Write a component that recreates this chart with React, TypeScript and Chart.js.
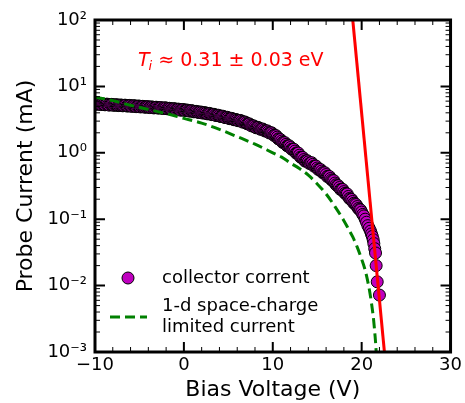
import React, { useEffect, useRef } from 'react';
import { Chart, registerables } from 'chart.js';

Chart.register(...registerables);

// ---------- data ----------
// collector current, first pass of readings along the band
const collectorV = [
  -10, -9.75, -9.5, -9.25, -9, -8.75, -8.5, -8.25, -8, -7.75, -7.5, -7.25, -7, -6.75, -6.5, -6.25,
  -6, -5.75, -5.5, -5.25, -5, -4.75, -4.5, -4.25, -4, -3.75, -3.5, -3.25, -3, -2.75, -2.5, -2.25,
  -2, -1.75, -1.5, -1.25, -1, -0.75, -0.5, -0.25, 0, 0.25, 0.5, 0.75, 1, 1.25, 1.5, 1.75,
  2, 2.25, 2.5, 2.75, 3, 3.25, 3.5, 3.75, 4, 4.25, 4.5, 4.75, 5, 5.25, 5.5, 5.75,
  6, 6.25, 6.5, 6.75, 7, 7.25, 7.5, 7.75, 8, 8.25, 8.5, 8.75, 9, 9.25, 9.5, 9.75,
  10, 10.25, 10.5, 10.75, 11, 11.25, 11.5, 11.75, 12, 12.25, 12.5, 12.75, 13, 13.25, 13.5, 13.75,
  14, 14.25, 14.5, 14.75, 15, 15.25, 15.5, 15.75, 16, 16.25, 16.5, 16.75, 17, 17.25, 17.5, 17.75,
  18, 18.25, 18.5, 18.75, 19, 19.25, 19.5, 19.75, 20, 20.25,
  20.4, 20.55, 20.7, 20.85, 21.0, 21.1, 21.2, 21.3, 21.37, 21.47, 21.56, 21.63, 21.75, 22.0,
];
const collectorI = [
  5.45, 5.5, 5.4, 5.42, 5.35, 5.38, 5.3, 5.33, 5.28, 5.24, 5.26, 5.18, 5.2, 5.15, 5.17, 5.1,
  5.12, 5.06, 5.08, 5.0, 5.02, 4.97, 4.95, 4.9, 4.92, 4.86, 4.85, 4.8, 4.82, 4.76, 4.75, 4.7,
  4.72, 4.64, 4.62, 4.56, 4.58, 4.5, 4.49, 4.42, 4.45, 4.38, 4.33, 4.28, 4.25, 4.18, 4.15, 4.08,
  4.05, 4.0, 3.95, 3.88, 3.85, 3.78, 3.72, 3.66, 3.6, 3.53, 3.48, 3.4, 3.35, 3.28, 3.23, 3.15,
  3.1, 3.06, 2.98, 2.9, 2.82, 2.72, 2.62, 2.54, 2.45, 2.4, 2.33, 2.27, 2.2, 2.13, 2.06, 2.0,
  1.92, 1.82, 1.72, 1.6, 1.5, 1.42, 1.34, 1.27, 1.2, 1.13, 1.06, 0.99, 0.92, 0.85, 0.79, 0.75,
  0.73, 0.7, 0.67, 0.63, 0.59, 0.56, 0.53, 0.5, 0.47, 0.44, 0.41, 0.38, 0.35, 0.32, 0.3, 0.28,
  0.26, 0.24, 0.22, 0.2, 0.185, 0.17, 0.155, 0.14, 0.128, 0.112,
  0.1, 0.09, 0.08, 0.073, 0.066, 0.06, 0.055, 0.049, 0.043, 0.036, 0.031, 0.02, 0.0114, 0.0072,
];
// collector current, second pass (band edges between the first-pass readings)
const collectorV2 = [
  -9.875, -9.625, -9.375, -9.125, -8.875, -8.625, -8.375, -8.125, -7.875, -7.625, -7.375, -7.125,
  -6.875, -6.625, -6.375, -6.125, -5.875, -5.625, -5.375, -5.125, -4.875, -4.625, -4.375, -4.125,
  -3.875, -3.625, -3.375, -3.125, -2.875, -2.625, -2.375, -2.125, -1.875, -1.625, -1.375, -1.125,
  -0.875, -0.625, -0.375, -0.125, 0.125, 0.375, 0.625, 0.875, 1.125, 1.375, 1.625, 1.875,
  2.125, 2.375, 2.625, 2.875, 3.125, 3.375, 3.625, 3.875, 4.125, 4.375, 4.625, 4.875,
  5.125, 5.375, 5.625, 5.875, 6.125, 6.375, 6.625, 6.875, 7.125, 7.375, 7.625, 7.875,
  8.125, 8.375, 8.625, 8.875, 9.125, 9.375, 9.625, 9.875, 10.125, 10.375, 10.625, 10.875,
  11.125, 11.375, 11.625, 11.875, 12.125, 12.375, 12.625, 12.875, 13.125, 13.375, 13.625, 13.875,
  14.125, 14.375, 14.625, 14.875, 15.125, 15.375, 15.625, 15.875, 16.125, 16.375, 16.625, 16.875,
  17.125, 17.375, 17.625, 17.875, 18.125, 18.375, 18.625, 18.875, 19.125, 19.375, 19.625, 19.875,
  20.125,
];
const collectorI2 = [
  5.36, 5.52, 5.33, 5.45, 5.28, 5.4, 5.22, 5.36, 5.18, 5.3, 5.14, 5.25,
  5.1, 5.22, 5.05, 5.17, 5.0, 5.12, 4.95, 5.07, 4.9, 5.01, 4.85, 4.96,
  4.8, 4.91, 4.74, 4.86, 4.7, 4.8, 4.64, 4.76, 4.6, 4.68, 4.52, 4.62,
  4.46, 4.55, 4.38, 4.49, 4.34, 4.4, 4.24, 4.31, 4.14, 4.21, 4.05, 4.12,
  3.96, 4.02, 3.86, 3.92, 3.76, 3.8, 3.64, 3.68, 3.52, 3.56, 3.39, 3.43,
  3.27, 3.3, 3.15, 3.17, 3.04, 3.07, 2.9, 2.91, 2.73, 2.72, 2.54, 2.54,
  2.38, 2.41, 2.26, 2.28, 2.13, 2.14, 1.99, 2.0, 1.83, 1.81, 1.62, 1.58,
  1.43, 1.42, 1.27, 1.27, 1.13, 1.13, 0.99, 0.99, 0.86, 0.85, 0.75, 0.76,
  0.69, 0.71, 0.63, 0.63, 0.56, 0.56, 0.5, 0.5, 0.44, 0.44, 0.39, 0.38,
  0.33, 0.32, 0.28, 0.28, 0.245, 0.24, 0.205, 0.198, 0.174, 0.166, 0.145, 0.138,
  0.118,
];

const spaceChargeV = [
  -10, -8, -6, -4, -2, 0, 2, 4, 6, 8, 10, 11, 12, 13, 14, 15, 16, 17, 18, 18.5,
  19, 19.5, 20, 20.4, 20.8, 21.1, 21.35, 21.5, 21.6, 21.65,
];
const spaceChargeI = [
  6.9, 6.1, 5.2, 4.5, 3.9, 3.3, 2.8, 2.25, 1.75, 1.35, 1.0, 0.86, 0.7, 0.58, 0.46, 0.34, 0.24, 0.155, 0.095, 0.072,
  0.054, 0.038, 0.025, 0.017, 0.0097, 0.0055, 0.003, 0.0018, 0.0012, 0.0009,
];

const fitV = [19.0, 22.56];
const fitI = [100, 0.001];

const xMajorTicks = [-10, 0, 10, 20, 30];
const xMinorTicks = [-8, -6, -4, -2, 2, 4, 6, 8, 12, 14, 16, 18, 22, 24, 26, 28];
const yMajorTicks = [1e-3, 1e-2, 1e-1, 1, 10, 100];
const yTickLabels = ['10⁻³', '10⁻²', '10⁻¹', '10⁰', '10¹', '10²'];
const yMinorMultipliers = [2, 3, 4, 5, 6, 7, 8, 9];

const legendLabels = ['collector corrent', '1-d space-charge\nlimited current'];
const annotationSymbol = 'T';
const annotationSub = 'i';
const annotationRest = ' ≈ 0.31 ± 0.03 eV';

const FONT = '"DejaVu Sans", sans-serif';

const framePlugin = {
  id: 'frameTicks',
  afterDatasetsDraw(chart: any) {
    const { ctx, chartArea: a, scales } = chart;
    const x = scales.x;
    const y = scales.y;
    ctx.save();
    ctx.strokeStyle = '#000';
    const drawX = (v: number, len: number, w: number) => {
      const px = x.getPixelForValue(v);
      ctx.lineWidth = w;
      ctx.beginPath();
      ctx.moveTo(px, a.bottom);
      ctx.lineTo(px, a.bottom - len);
      ctx.moveTo(px, a.top);
      ctx.lineTo(px, a.top + len);
      ctx.stroke();
    };
    const drawY = (v: number, len: number, w: number) => {
      const py = y.getPixelForValue(v);
      ctx.lineWidth = w;
      ctx.beginPath();
      ctx.moveTo(a.left, py);
      ctx.lineTo(a.left + len, py);
      ctx.moveTo(a.right, py);
      ctx.lineTo(a.right - len, py);
      ctx.stroke();
    };
    xMajorTicks.forEach((v) => drawX(v, 10, 2));
    xMinorTicks.forEach((v) => drawX(v, 5, 1));
    yMajorTicks.forEach((v) => drawY(v, 10, 2));
    yMajorTicks.slice(0, -1).forEach((d) => yMinorMultipliers.forEach((m) => drawY(d * m, 5, 1)));
    ctx.lineWidth = 3;
    ctx.strokeRect(a.left, a.top, a.right - a.left, a.bottom - a.top);
    ctx.restore();
  },
};

const legendPlugin = {
  id: 'insetLegend',
  afterDraw(chart: any) {
    const { ctx, chartArea: a } = chart;
    const ds = chart.data.datasets;
    const scatter = ds.find((d: any) => d.id === 'collector');
    const dashed = ds.find((d: any) => d.id === 'spacecharge');
    ctx.save();
    ctx.font = `18px ${FONT}`;
    ctx.fillStyle = '#000';
    ctx.textBaseline = 'middle';
    ctx.textAlign = 'left';
    const y1 = a.top + 258;
    ctx.beginPath();
    ctx.arc(a.left + 33, y1, scatter.pointRadius, 0, Math.PI * 2);
    ctx.fillStyle = scatter.backgroundColor;
    ctx.fill();
    ctx.lineWidth = scatter.borderWidth;
    ctx.strokeStyle = scatter.borderColor;
    ctx.stroke();
    ctx.fillStyle = '#000';
    ctx.fillText(legendLabels[0], a.left + 67, y1);
    const y2 = a.top + 297;
    ctx.strokeStyle = dashed.borderColor;
    ctx.lineWidth = dashed.borderWidth;
    ctx.setLineDash(dashed.borderDash);
    ctx.beginPath();
    ctx.moveTo(a.left + 15, y2);
    ctx.lineTo(a.left + 52, y2);
    ctx.stroke();
    ctx.setLineDash([]);
    const lines = legendLabels[1].split('\n');
    ctx.fillText(lines[0], a.left + 67, y2 - 11);
    ctx.fillText(lines[1], a.left + 67, y2 + 10);
    ctx.restore();
  },
};

const annotationPlugin = {
  id: 'tiAnnotation',
  afterDraw(chart: any) {
    const { ctx, chartArea: a } = chart;
    ctx.save();
    ctx.fillStyle = '#ff0000';
    ctx.textBaseline = 'alphabetic';
    ctx.textAlign = 'left';
    let xPos = a.left + 43;
    const base = a.top + 46;
    ctx.font = `oblique 19px ${FONT}`;
    ctx.fillText(annotationSymbol, xPos, base);
    xPos += ctx.measureText(annotationSymbol).width - 1;
    ctx.font = `oblique 13px ${FONT}`;
    ctx.fillText(annotationSub, xPos, base + 4);
    xPos += ctx.measureText(annotationSub).width;
    ctx.font = `19px ${FONT}`;
    ctx.fillText(annotationRest, xPos, base);
    ctx.restore();
  },
};

export default function App() {
  const canvasRef = useRef<HTMLCanvasElement | null>(null);

  useEffect(() => {
    const canvas = canvasRef.current;
    if (!canvas) return;
    const collectorPoints = collectorV
      .map((v, i) => ({ x: v, y: collectorI[i] }))
      .concat(collectorV2.map((v, i) => ({ x: v, y: collectorI2[i] })))
      .sort((p, q) => p.x - q.x);
    const chart = new Chart(canvas, {
      type: 'scatter',
      data: {
        datasets: [
          {
            id: 'fit',
            label: 'fit',
            data: fitV.map((v, i) => ({ x: v, y: fitI[i] })),
            showLine: true,
            borderColor: '#ff0000',
            borderWidth: 3,
            pointRadius: 0,
            order: 0,
            clip: 0,
          } as any,
          {
            id: 'spacecharge',
            label: legendLabels[1],
            data: spaceChargeV.map((v, i) => ({ x: v, y: spaceChargeI[i] })),
            showLine: true,
            borderColor: '#008000',
            borderWidth: 3,
            borderDash: [10, 5],
            cubicInterpolationMode: 'monotone',
            pointRadius: 0,
            order: 1,
            clip: 0,
          } as any,
          {
            id: 'collector',
            label: legendLabels[0],
            data: collectorPoints,
            showLine: false,
            pointRadius: 6,
            pointHoverRadius: 6,
            backgroundColor: '#bf00bf',
            borderColor: '#000000',
            borderWidth: 1,
            order: 2,
            clip: 0,
          } as any,
        ],
      },
      options: {
        responsive: false,
        animation: false,
        devicePixelRatio: 1,
        layout: { padding: { left: 0, top: 20, right: 14, bottom: 0 } },
        plugins: {
          legend: { display: false },
          tooltip: { enabled: false },
        },
        events: [],
        scales: {
          x: {
            type: 'linear',
            min: -10,
            max: 30,
            grid: { display: false, drawTicks: false },
            border: { display: false },
            afterBuildTicks: (s: any) => {
              s.ticks = xMajorTicks.map((v) => ({ value: v }));
            },
            afterFit: (s: any) => {
              s.height = 51;
            },
            ticks: {
              padding: 3,
              color: '#000',
              font: { family: FONT, size: 18 },
              maxRotation: 0,
              autoSkip: false,
              callback: (v: any) => (Number(v) < 0 ? '−' + Math.abs(Number(v)) : String(v)),
            },
            title: {
              display: true,
              text: 'Bias Voltage (V)',
              color: '#000',
              font: { family: FONT, size: 22 },
              padding: { top: 0, bottom: 0 },
            },
          },
          y: {
            type: 'logarithmic',
            min: 1e-3,
            max: 100,
            grid: { display: false, drawTicks: false },
            border: { display: false },
            afterBuildTicks: (s: any) => {
              s.ticks = yMajorTicks.map((v) => ({ value: v }));
            },
            afterFit: (s: any) => {
              s.width = 95;
            },
            ticks: {
              padding: 8,
              color: '#000',
              font: { family: FONT, size: 18 },
              autoSkip: false,
              callback: (v: any) => {
                const idx = yMajorTicks.findIndex((t) => Math.abs(Math.log10(t) - Math.log10(Number(v))) < 1e-6);
                return idx >= 0 ? yTickLabels[idx] : '';
              },
            },
            title: {
              display: true,
              text: 'Probe Current (mA)',
              color: '#000',
              font: { family: FONT, size: 22 },
              padding: { top: 13, bottom: 0 },
            },
          },
        },
      },
      plugins: [framePlugin, legendPlugin, annotationPlugin],
    } as any);
    return () => chart.destroy();
  }, []);

  return (
    <div style={{ position: 'fixed', left: 0, top: 0, width: 465, height: 403, background: '#fff' }}>
      <canvas ref={canvasRef} width={465} height={403} style={{ display: 'block' }} />
    </div>
  );
}
